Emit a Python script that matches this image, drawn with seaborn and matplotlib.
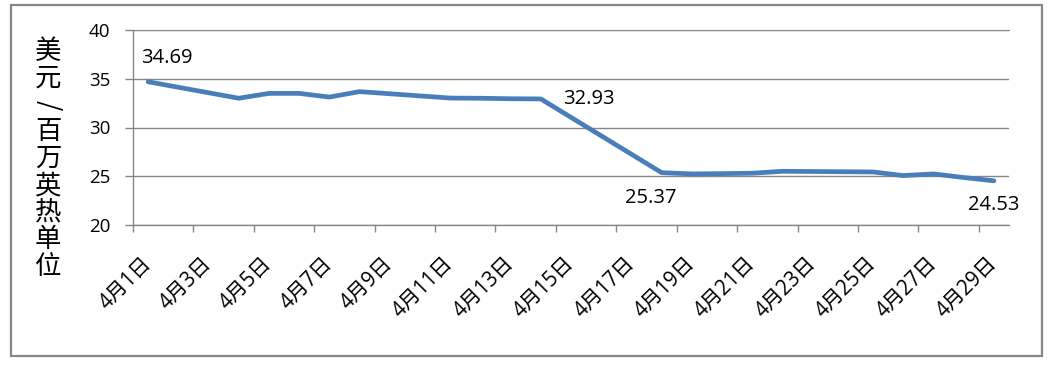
import matplotlib
matplotlib.use('Agg')
import matplotlib.pyplot as plt
import seaborn as sns
from matplotlib.patches import Rectangle

# April trading days and prices (USD per MMBtu)
days = [1, 4, 5, 6, 7, 8, 11, 12, 13, 14, 18, 19, 20, 21, 22, 25, 26, 27, 28, 29]
prices = [34.69, 33.0, 33.5, 33.5, 33.12, 33.68, 33.02, 33.0, 32.95, 32.93,
          25.37, 25.24, 25.27, 25.31, 25.51, 25.44, 25.07, 25.24, 24.87, 24.53]
tick_days = list(range(1, 30, 2))
tick_labels = [f'4月{d}日' for d in tick_days]
y_ticks = [20, 25, 30, 35, 40]
ylabel_text = '美元/百万英热单位'
labelled_days = [1, 14, 18, 29]

sns.set_style('white')
plt.rcParams['font.family'] = ['Open Sans', 'Noto Sans CJK SC']
plt.rcParams['text.color'] = 'black'
plt.rcParams['xtick.labelcolor'] = 'black'
plt.rcParams['ytick.labelcolor'] = 'black'

W, H = 1053, 365
fig = plt.figure(figsize=(W / 100, H / 100), dpi=100)
ax = fig.add_axes([133 / W, 1 - 225 / H, (1009 - 133) / W, (225 - 30) / H])

gray = '#878787'
sns.lineplot(x=days, y=prices, ax=ax, color='#4A7EBB', linewidth=3.4,
             solid_capstyle='round', solid_joinstyle='round')

ax.set_xlim(0.5, 29.5)
ax.set_ylim(20, 40)
ax.set_yticks(y_ticks)
ax.set_xticks([d - 0.5 for d in tick_days])
ax.set_xticklabels([])
ax.set_xticks(tick_days, tick_labels, minor=True)
for lab in ax.get_xticklabels(minor=True):
    lab.set_rotation(45)
    lab.set_ha('right')
    lab.set_va('center')
    lab.set_rotation_mode('anchor')

ax.tick_params(axis='y', which='major', length=5.8, width=1, color=gray,
               pad=10.5, labelsize=13.5, left=True, labelcolor='black')
ax.tick_params(axis='x', which='major', length=5, width=1, color=gray, bottom=True)
ax.tick_params(axis='x', which='minor', length=0, pad=25.5, labelsize=14.8,
               labelcolor='black')

ax.grid(axis='y', color=gray, linewidth=1)
ax.set_axisbelow(True)
for side in ['left', 'bottom']:
    ax.spines[side].set_color(gray)
    ax.spines[side].set_linewidth(1)
ax.spines['right'].set_visible(False)
ax.spines['top'].set_color(gray)
ax.set_xlabel('')
ax.set_ylabel('')

# data labels (offsets in points)
offsets = {1: (13.7, 17.3, 'center'), 14: (16, 0, 'left'),
           18: (-7.9, -18, 'center'), 29: (0, -17.3, 'center')}
for d in labelled_days:
    v = prices[days.index(d)]
    dx, dy, ha = offsets[d]
    ax.annotate(f'{v:.2f}', (d, v), xytext=(dx, dy), textcoords='offset points',
                ha=ha, va='center', fontsize=14.5, color='black')

# vertical y-axis title, one character per line
for i, ch in enumerate(ylabel_text):
    y_px = 51 + i * 26.9
    fig.text(48 / W, 1 - y_px / H, ch, ha='center', va='center', fontsize=19,
             rotation=-90 if ch == '/' else 0, color='black',
             family=['Noto Sans CJK SC', 'DejaVu Sans'])

# chart border
fig.patches.append(Rectangle((11 / W, 1 - 356 / H), (1042 - 11) / W, (356 - 5) / H,
                             transform=fig.transFigure, fill=False,
                             edgecolor=gray, linewidth=1.6))

fig.savefig('out.png', dpi=100)
